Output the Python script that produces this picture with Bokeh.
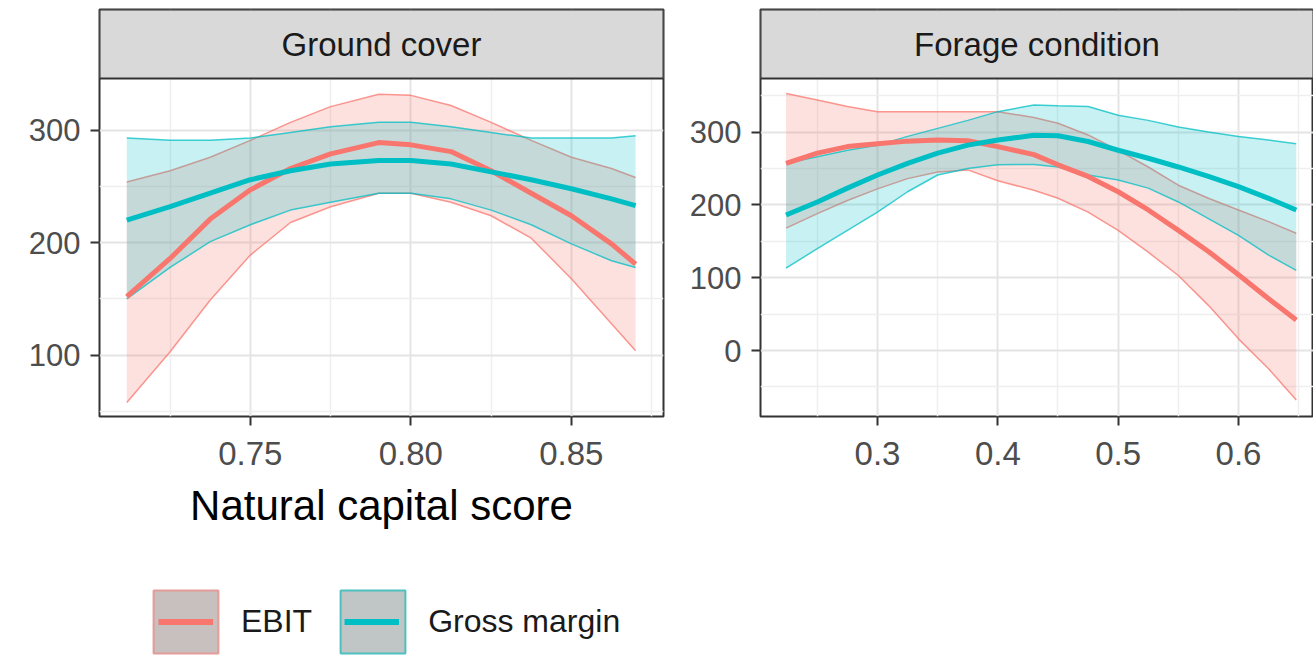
from bokeh.plotting import figure
from bokeh.models import (Range1d, FixedTicker, NumeralTickFormatter, Legend, LegendItem)
from bokeh.layouts import row, column
from bokeh.core.properties import value
from bokeh.embed import file_html
from bokeh.resources import INLINE

# ---------------- data ----------------
panel_titles = ["Ground cover", "Forage condition"]
series_names = ["EBIT", "Gross margin"]
x_axis_title = "Natural capital score"

# Ground cover panel
gc_x = [0.7115, 0.725, 0.7375, 0.75, 0.7625, 0.775, 0.79, 0.80, 0.8125, 0.825, 0.8375, 0.85, 0.8625, 0.870]
gc_ebit_mean = [152, 186, 221, 247, 266, 279, 289, 287, 281, 264, 244, 224, 199, 181]
gc_ebit_upper = [254, 264, 276, 291, 307, 321, 332, 331, 322, 307, 291, 276, 266, 258]
gc_ebit_lower = [58, 103, 149, 189, 218, 232, 244, 244, 236, 224, 204, 168, 128, 104]
gc_gm_mean = [220, 232, 244, 256, 264, 270, 273, 273, 270, 263, 256, 248, 239, 233]
gc_gm_upper = [293, 291, 291, 293, 298, 303, 307, 307, 303, 298, 293, 293, 293, 295]
gc_gm_lower = [150, 178, 201, 216, 229, 236, 244, 244, 239, 229, 216, 199, 184, 178]

# Forage condition panel
fc_x = [0.224, 0.25, 0.275, 0.30, 0.325, 0.35, 0.375, 0.40, 0.43, 0.45, 0.475, 0.50, 0.525, 0.55, 0.575, 0.60, 0.625, 0.648]
fc_ebit_mean = [257, 271, 280, 284, 287.5, 289, 288, 280, 269, 255, 239, 218, 193, 165, 136, 104, 71, 42]
fc_ebit_upper = [353, 344, 335, 328, 328, 328, 328, 328, 320, 312, 296, 275, 252, 227, 209, 193, 177, 161]
fc_ebit_lower = [168, 188, 206, 222, 236, 245, 248, 233, 220, 209, 190, 165, 135, 103, 62, 16, -25, -68]
fc_gm_mean = [186, 204, 223, 241, 257, 271, 282, 289, 295.5, 295, 287, 275, 264, 252, 239, 225, 209, 193]
fc_gm_upper = [257, 266, 275, 282, 294, 305, 316, 328, 337, 336, 335, 323, 316, 307, 300, 294, 289, 284]
fc_gm_lower = [113, 140, 165, 190, 218, 241, 250, 255, 255.5, 252, 241, 234, 223, 204, 181, 158, 131, 110]

# ticks
gc_xticks = [0.75, 0.80, 0.85]
gc_xminor = [0.725, 0.775, 0.825, 0.875]
gc_yticks = [100, 200, 300]
gc_yminor = [50, 150, 250]
fc_xticks = [0.3, 0.4, 0.5, 0.6]
fc_xminor = [0.25, 0.35, 0.45, 0.55, 0.65]
fc_yticks = [0, 100, 200, 300]
fc_yminor = [-50, 50, 150, 250, 350]

# ---------------- style ----------------
EBIT_COL = "#F8766D"
GM_COL = "#00BFC4"
FONT = "Liberation Sans"
BORDER = "#333333"
PANEL_H = 582
NAN = float("nan")


def make_panel(title, x, e_m, e_u, e_l, g_m, g_u, g_l,
               xr, yr_data, xt, xm, yt, ym, xfmt, width, left_border, right_border):
    y_lo, y_hi = yr_data
    strip_px, data_px = 69.0, 338.0
    y_top = y_hi + (y_hi - y_lo) * strip_px / data_px
    p = figure(width=width, height=PANEL_H, x_range=Range1d(*xr), y_range=Range1d(y_lo, y_top),
               output_backend="svg", toolbar_location=None,
               min_border_left=left_border, min_border_right=right_border,
               min_border_top=9, min_border_bottom=PANEL_H - 416)
    p.background_fill_color = "white"
    p.border_fill_color = "white"
    p.outline_line_color = BORDER
    p.outline_line_width = 2

    for ax, ticks, minor, fmt, fs in ((p.xaxis[0], xt, xm, xfmt, "33px"),
                                       (p.yaxis[0], yt, ym, "0", "31px")):
        ax.ticker = FixedTicker(ticks=ticks, minor_ticks=minor)
        ax.formatter = NumeralTickFormatter(format=fmt)
        ax.axis_line_color = None
        ax.major_tick_line_color = BORDER
        ax.major_tick_line_width = 2
        ax.major_tick_out = 9
        ax.major_tick_in = 0
        ax.minor_tick_line_color = None
        ax.major_label_text_font = FONT
        ax.major_label_text_font_size = fs
        ax.major_label_text_color = "#4D4D4D"
    p.xaxis.major_label_standoff = 16
    p.yaxis.major_label_standoff = 10

    for g in (p.xgrid[0], p.ygrid[0]):
        g.grid_line_color = "#E4E4E4"
        g.grid_line_width = 2
        g.minor_grid_line_color = "#EFEFEF"
        g.minor_grid_line_width = 1.5

    # ribbons (EBIT first, then Gross margin, as in ggplot)
    p.varea(x=x, y1=e_l, y2=e_u, fill_color=EBIT_COL, fill_alpha=0.22)
    p.line(x, e_u, line_color=EBIT_COL, line_width=1.5, line_alpha=0.75)
    p.line(x, e_l, line_color=EBIT_COL, line_width=1.5, line_alpha=0.75)
    p.varea(x=x, y1=g_l, y2=g_u, fill_color=GM_COL, fill_alpha=0.22)
    p.line(x, g_u, line_color=GM_COL, line_width=1.5, line_alpha=0.75)
    p.line(x, g_l, line_color=GM_COL, line_width=1.5, line_alpha=0.75)
    # fitted lines
    p.line(x, e_m, line_color=EBIT_COL, line_width=5)
    p.line(x, g_m, line_color=GM_COL, line_width=5)

    # facet strip
    p.quad(left=[xr[0]], right=[xr[1]], bottom=[y_hi], top=[y_top],
           fill_color="#D9D9D9", line_color=BORDER, line_width=2)
    p.text(x=[(xr[0] + xr[1]) / 2], y=[(y_hi + y_top) / 2], text=[title],
           text_align="center", text_baseline="middle",
           text_font=value(FONT), text_font_size="33px", text_color="#1A1A1A")
    return p


p1 = make_panel(panel_titles[0], gc_x, gc_ebit_mean, gc_ebit_upper, gc_ebit_lower,
                gc_gm_mean, gc_gm_upper, gc_gm_lower,
                (0.7030, 0.8787), (45.5, 346.0), gc_xticks, gc_xminor, gc_yticks, gc_yminor,
                "0.00", 680, 99, 17)
p2 = make_panel(panel_titles[1], fc_x, fc_ebit_mean, fc_ebit_upper, fc_ebit_lower,
                fc_gm_mean, fc_gm_upper, fc_gm_lower,
                (0.20277, 0.66233), (-90.6, 373.5), fc_xticks, fc_xminor, fc_yticks, fc_yminor,
                "0.0", 633, 80, 0)

p1.xaxis.axis_label = x_axis_title
p1.xaxis.axis_label_text_font = FONT
p1.xaxis.axis_label_text_font_size = "42px"
p1.xaxis.axis_label_text_font_style = "normal"
p1.xaxis.axis_label_text_color = "#000000"
p1.xaxis.axis_label_standoff = 14

# legend strip below the panels (key renderers hold no visible data)
lg = figure(width=680, height=656 - PANEL_H, x_range=Range1d(0, 1), y_range=Range1d(0, 1),
            output_backend="svg", toolbar_location=None,
            x_axis_type=None, y_axis_type=None,
            min_border_left=0, min_border_right=0, min_border_top=0, min_border_bottom=0)
lg.outline_line_color = None
lg.xgrid.visible = False
lg.ygrid.visible = False
lg.background_fill_color = "white"
lg.border_fill_color = "white"
k1 = lg.quad(left=[NAN], right=[NAN], top=[NAN], bottom=[NAN], fill_color="#C8BFBF",
             line_color="#E39C97", line_width=2)
k2 = lg.quad(left=[NAN], right=[NAN], top=[NAN], bottom=[NAN], fill_color="#C0C6C6",
             line_color="#4FBFC0", line_width=2)
l1 = lg.line(x=[NAN], y=[NAN], line_color=EBIT_COL, line_width=6)
l2 = lg.line(x=[NAN], y=[NAN], line_color=GM_COL, line_width=6)

# key boxes + labels
legend = Legend(items=[LegendItem(label=series_names[0], renderers=[k1]),
                       LegendItem(label=series_names[1], renderers=[k2])],
                location=(145, -5), orientation="horizontal",
                glyph_width=81, glyph_height=79, label_standoff=15, spacing=20,
                padding=0, margin=0, border_line_color=None, background_fill_alpha=0,
                label_text_font=FONT, label_text_font_size="32px", label_text_color="#1A1A1A")
lg.add_layout(legend)
# key lines (drawn inside the boxes)
legend_lines = Legend(items=[LegendItem(label="", renderers=[l1]),
                             LegendItem(label="", renderers=[l2])],
                      location=(158, -5), orientation="horizontal",
                      glyph_width=55, glyph_height=79, label_standoff=0, label_width=0,
                      spacing=131, padding=0, margin=0, border_line_color=None,
                      background_fill_alpha=0, label_text_font_size="1px")
lg.add_layout(legend_lines)

layout = column(row(p1, p2), lg)
open("out.html", "w").write(file_html(layout, INLINE))
